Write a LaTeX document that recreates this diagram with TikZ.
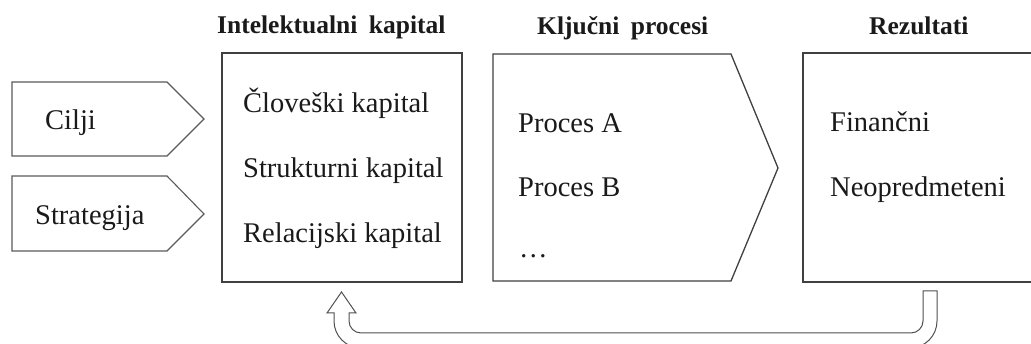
\documentclass[tikz,border=0pt]{standalone}
\usepackage{fontspec}
\setmainfont{Liberation Serif}
\definecolor{boxline}{HTML}{404040}
\definecolor{tagline}{HTML}{5A5A5A}
\definecolor{arrline}{HTML}{505050}
\definecolor{txt}{HTML}{1A1A1A}
\begin{document}
\begin{tikzpicture}[x=1pt,y=-1pt,
  box/.style={draw=boxline,line width=1.3pt,fill=white},
  tag/.style={draw=tagline,line width=1.1pt,fill=white},
  body/.style={anchor=base west,inner sep=0pt,text=txt,font=\fontsize{28.5}{30}\selectfont},
  head/.style={anchor=base west,inner sep=0pt,text=txt,font=\fontsize{25.5}{28}\selectfont\bfseries},
  loop/.style={draw=arrline,line width=1pt,fill=white}]
\useasboundingbox (0,0) rectangle (1031,344);
\clip (0,0) rectangle (1031,344);
% tags
\draw[tag] (12,82) -- (167,82) -- (204,119) -- (167,156) -- (12,156) -- cycle;
\draw[tag] (12,176) -- (167,176) -- (204,214) -- (167,251) -- (12,251) -- cycle;
% boxes
\draw[box] (222,53) rectangle (462,282);
\draw[box] (493,54) -- (731,54) -- (778,168) -- (731,281) -- (493,281) -- cycle;
\draw[box] (1040,53) -- (803,53) -- (803,282) -- (1040,282);
% headers
\node[head] (h1) at (217,34) {Intelektualni\hspace{0.45em}kapital};
\node[head] (h2) at (537,35) {Ključni\hspace{0.45em}procesi};
\node[head] (h3) at (869,35) {Rezultati};
% texts
\node[body] (cilji) at (45,130) {Cilji};
\node[body] (strat) at (35,225) {Strategija};
\node[body] (clov) at (243,113) {Človeški kapital};
\node[body] (strk) at (243,178) {Strukturni kapital};
\node[body] (rel) at (243,243) {Relacijski kapital};
\node[body] (pa) at (518,133) {Proces A};
\node[body] (pb) at (518,197) {Proces B};
\node[body] (dots) at (519,258) {…};
\node[body] (fin) at (830,132) {Finančni};
\node[body] (neo) at (830,197) {Neopredmeteni};
% feedback U-arrow
\coordinate (tip) at (341.5,292);
\draw[loop] (tip) -- (356,313) -- (349,313) -- (349,321)
  .. controls (349,327.6) and (354.4,333) .. (361,333)
  -- (911,333) .. controls (917.6,333) and (923,327.6) .. (923,321)
  -- (923,291) -- (937,291) -- (937,321)
  .. controls (937,335.9) and (924.9,348) .. (910,348)
  -- (361,348) .. controls (346.1,348) and (334,335.9) .. (334,321)
  -- (334,313) -- (327,313) -- cycle;
\end{tikzpicture}
\end{document}
